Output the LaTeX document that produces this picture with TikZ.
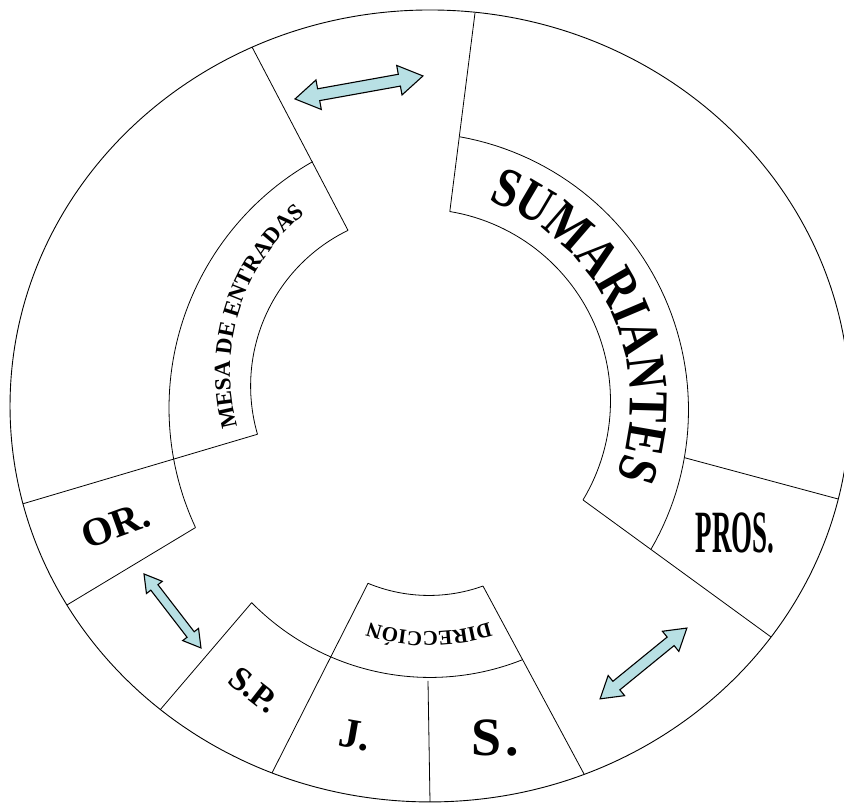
\documentclass[tikz,border=0pt]{standalone}
\usepackage{fontspec}
\setmainfont{Liberation Serif}
\newfontfamily\condserif[FakeStretch=0.82]{Liberation Serif}
\usepackage{xcolor}
\usepackage{graphicx}
\usepackage{tikz}
\usetikzlibrary{decorations.text}

\definecolor{arrowcyan}{RGB}{184,224,228}

\begin{document}
\begin{tikzpicture}[
  x=0.1pt, y=-0.1pt,
  ring/.style={draw=black, line width=0.09pt},
  divider/.style={draw=black, line width=0.08pt},
  bandarc/.style={draw=black, line width=0.08pt},
  arrowbody/.style={draw=black, line width=0.11pt, fill=arrowcyan},
  arctext/.style={decorate, decoration={text along path, text align=center, text={#1}}},
  seglabel/.style={inner sep=0pt, font=\bfseries\fontsize{#1}{#1}\selectfont},
  pics/dblarrow/.style n args={4}{code={
    \draw[arrowbody] (-#1,0) -- (-#1+#2,#3) -- (-#1+#2,#4) -- (#1-#2,#4) -- (#1-#2,#3) -- (#1,0)
      -- (#1-#2,-#3) -- (#1-#2,-#4) -- (-#1+#2,-#4) -- (-#1+#2,-#3) -- cycle;
  }}
]
\useasboundingbox (0,0) rectangle (844,803);

% corners of the segments
\coordinate (cen) at (430,406);
\coordinate (tlOut) at (252,47);
\coordinate (tlIn) at (348,230.4);
\coordinate (trOut) at (475,13);
\coordinate (trIn) at (449.8,211.6);
\coordinate (sumEnd) at (583,500);
\coordinate (prosBot) at (771,637);
\coordinate (prosTop) at (684.4,457.7);
\coordinate (prosOut) at (838,499);
\coordinate (dirTL) at (368,583.4);
\coordinate (jOut) at (272,773);
\coordinate (dirTR) at (483,586.1);
\coordinate (sOut) at (584,774);
\coordinate (spTop) at (251.7,602.7);
\coordinate (spOut) at (160,710);
\coordinate (jsTop) at (428,681);
\coordinate (jsOut) at (430,802);
\coordinate (mesaIn) at (257.5,434.3);
\coordinate (orOut) at (23,503.8);
\coordinate (orIn) at (195.5,527.6);
\coordinate (orBot) at (67,605);

% outer ring
\draw[ring] (cen) ellipse [x radius=42pt, y radius=39.6pt];

% straight dividers
\draw[divider] (tlOut) -- (tlIn);
\draw[divider] (trOut) -- (trIn);
\draw[divider] (sumEnd) -- (prosBot);
\draw[divider] (prosTop) -- (prosOut);
\draw[divider] (dirTL) -- (jOut);
\draw[divider] (dirTR) -- (sOut);
\draw[divider] (spTop) -- (spOut);
\draw[divider] (jsTop) -- (jsOut);
\draw[divider] (mesaIn) -- (orOut);
\draw[divider] (orIn) -- (orBot);

% band arcs (angles measured on the page, clockwise)
\draw[bandarc] plot[domain=240.5:155, samples=60] ({452+283*cos(\x)},{408+283*sin(\x)});
\draw[bandarc] plot[domain=244.1:163.8, samples=50] ({423.6+173*cos(\x)},{386+173*sin(\x)});
\draw[bandarc] plot[domain=-79.8:30.2, samples=60] ({411+277.5*cos(\x)},{410+277.5*sin(\x)});
\draw[bandarc] plot[domain=-80.6:31, samples=60] ({418.5+192*cos(\x)},{401+192*sin(\x)});
\draw[bandarc] plot[domain=112.5:70.2, samples=30] ({429+159.5*cos(\x)},{436+159.5*sin(\x)});
\draw[bandarc] plot[domain=135.5:68.3, samples=50] ({430+250*cos(\x)},{427.5+250*sin(\x)});

% curved titles
\path[arctext={|\condserif\bfseries\fontsize{5.6}{5.6}\selectfont|SUMARIANTES}]
  (425.9,189.1) arc[start angle=88, end angle=-38, radius=21.2pt];
\path[arctext={|\bfseries\fontsize{2.3}{2.3}\selectfont|MESA DE ENTRADAS}]
  (257.5,474.5) arc[start angle=210, end angle=115, radius=20.5pt];
\path[arctext={|\bfseries\fontsize{2.1}{2.1}\selectfont|DIRECCIÓN}]
  (541.4,596.6) arc[start angle=305, end angle=235, radius=19.6pt];

% segment labels
\node[seglabel=4, rotate=20] (orTag) at (116,525) {OR.};
\node[inner sep=0pt] (prosTag) at (735,533) {\scalebox{0.45}[1]{\bfseries\fontsize{6}{6}\selectfont PROS.}};
\node[seglabel=3.4, rotate=-38] (spTag) at (254,690) {S.P.};
\node[seglabel=4.2, rotate=-10] (jTag) at (355,735) {J.};
\node[seglabel=5.4] (sTag) at (495,738) {S\kern0.4pt.};

% double arrows
\pic[rotate=10.2] at (359,87.5) {dblarrow={65}{24}{15}{6}};
\pic[rotate=-52.4] at (172.5,611) {dblarrow={46.7}{17}{10}{4.5}};
\pic[rotate=39.2] at (643.5,663.5) {dblarrow={56}{21}{13}{5.5}};
\end{tikzpicture}
\end{document}
